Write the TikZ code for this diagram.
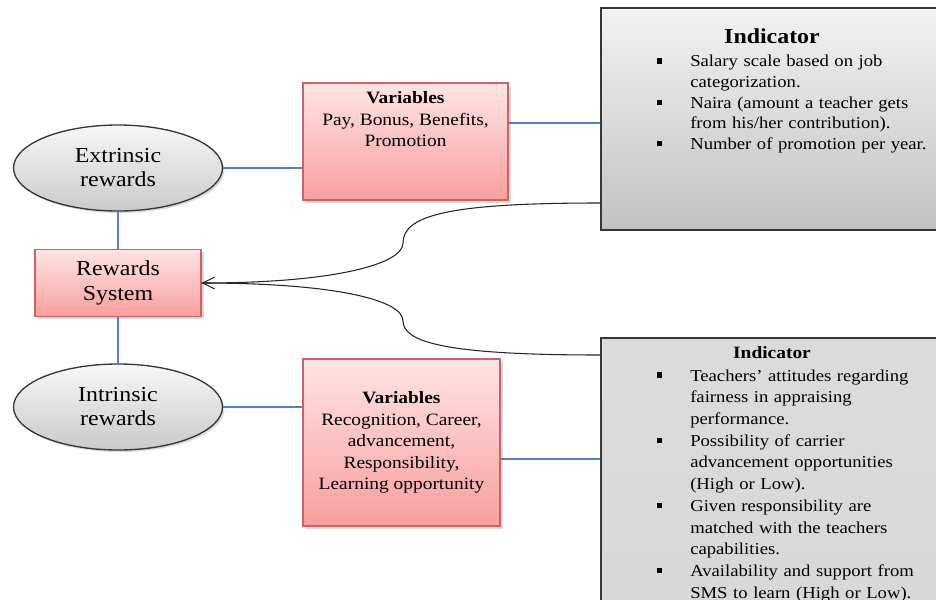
\documentclass[tikz,border=0pt]{standalone}
\usepackage{fontspec}
\setmainfont{Liberation Serif}[FakeStretch=1.12]
\usetikzlibrary{arrows.meta}
\usetikzlibrary{shapes.geometric, shadows}

\definecolor{linkblue}{RGB}{79,129,189}
\definecolor{pinktop}{RGB}{255,228,228}
\definecolor{pinkbot}{RGB}{248,158,158}
\definecolor{pinkedge}{RGB}{200,100,100}
\definecolor{greyedge}{RGB}{55,55,55}

% bulleted indicator line and its hanging continuation line
\newcommand{\indpt}{\par\noindent\makebox[24.75pt][l]{\rule[2.4pt]{3.4pt}{4pt}}}
\newcommand{\indln}{\par\noindent\hspace*{24.75pt}}

\begin{document}
\begin{tikzpicture}[
    x=0.75pt, y=-0.75pt,
    rewardell/.style={ellipse, draw=greyedge, line width=1pt, top color=gray!6, bottom color=gray!42,
        minimum width=156.75pt, minimum height=64.5pt, align=center, font=\fontsize{16}{18}\selectfont,
        drop shadow={shadow xshift=1.5pt, shadow yshift=-1.5pt, opacity=0.3}},
    varbox/.style={rectangle, draw=pinkedge, line width=0.8pt, top color=pinktop, bottom color=pinkbot,
        drop shadow={shadow xshift=2pt, shadow yshift=-2pt, opacity=0.3}},
    vartext/.style={align=center, font=\fontsize{13}{16.1}\selectfont},
    indbox/.style={rectangle, draw=greyedge, line width=1.2pt, anchor=north west, minimum width=300pt},
    indlist/.style={anchor=north west, inner sep=0pt, text width=215pt},
    link/.style={draw=linkblue, line width=0.8pt},
    brace/.style={draw=black!85, line width=0.8pt}
]
\useasboundingbox (0,0) rectangle (936,600);
\clip (0,0) rectangle (936,600);

% --- Rewards ---
\node[rewardell] (ext) at (118,168) {Extrinsic\\rewards};
\node[varbox, minimum width=124.5pt, minimum height=50.25pt, align=center,
      font=\fontsize{16}{18.5}\selectfont] (rew) at (118,283) {Rewards\\System};
\node[rewardell] (int) at (118,407) {Intrinsic\\rewards};

% --- Variables ---
\node[varbox, minimum width=153.75pt, minimum height=87.75pt] (varA) at (405.5,141.5) {};
\node[vartext, anchor=north] (varAtxt) at (405.5,87) {\textbf{Variables}\\Pay, Bonus, Benefits,\\Promotion};
\node[varbox, vartext, minimum width=147.75pt, minimum height=125.25pt] (varB) at (401.5,442.5)
    {\textbf{Variables}\\Recognition, Career,\\advancement,\\Responsibility,\\Learning opportunity};

% --- Indicators ---
\node[indbox, minimum height=166.5pt, top color=gray!10, bottom color=gray!48] (indA) at (600,7) {};
\node[font=\bfseries\fontsize{16}{18}\selectfont, anchor=base] (indAttl) at (772,43) {Indicator};
\node[indlist, font=\fontsize{12.5}{15.5}\selectfont] (indAtxt) at (657,46)
    {\indpt Salary scale based on job \indln categorization.
     \indpt Naira (amount a teacher gets \indln from his/her contribution).
     \indpt Number of promotion per year.};

\node[indbox, minimum height=290pt, top color=gray!28, middle color=gray!10, bottom color=gray!32] (indB) at (600,337) {};
\node[font=\bfseries\fontsize{13}{15}\selectfont, anchor=base] (indBttl) at (772,358) {Indicator};
\node[indlist, font=\fontsize{12.5}{16.3}\selectfont] (indBtxt) at (657,359)
    {\indpt Teachers' attitudes regarding \indln fairness in appraising \indln performance.
     \indpt Possibility of carrier \indln advancement opportunities \indln (High or Low).
     \indpt Given responsibility are \indln matched with the teachers \indln capabilities.
     \indpt Availability and support from \indln SMS to learn (High or Low).};

% --- Connections ---
\coordinate (tapA) at (600,123);
\coordinate (tapB) at (600,459);
\coordinate (curveA) at (600,203);
\coordinate (curveB) at (600,355);
\coordinate (kinkA) at (403,243);
\coordinate (kinkB) at (403,321);

\draw[link] (ext) -- (rew);
\draw[link] (rew) -- (int);
\draw[link] (ext.east) -- (ext.east -| varA.west);
\draw[link] (int.east) -- (int.east -| varB.west);
\draw[link] (varA.east |- tapA) -- (tapA);
\draw[link] (varB.east |- tapB) -- (tapB);

\draw[brace, -{Straight Barb[length=9pt, width=9pt]}] (curveA) .. controls (450,203) and (403,215) .. (kinkA)
    .. controls (403,265) and (330,283) .. (rew.east);
\draw[brace] (curveB) .. controls (450,355) and (403,343) .. (kinkB)
    .. controls (403,299) and (330,283) .. (rew.east);

\end{tikzpicture}
\end{document}
